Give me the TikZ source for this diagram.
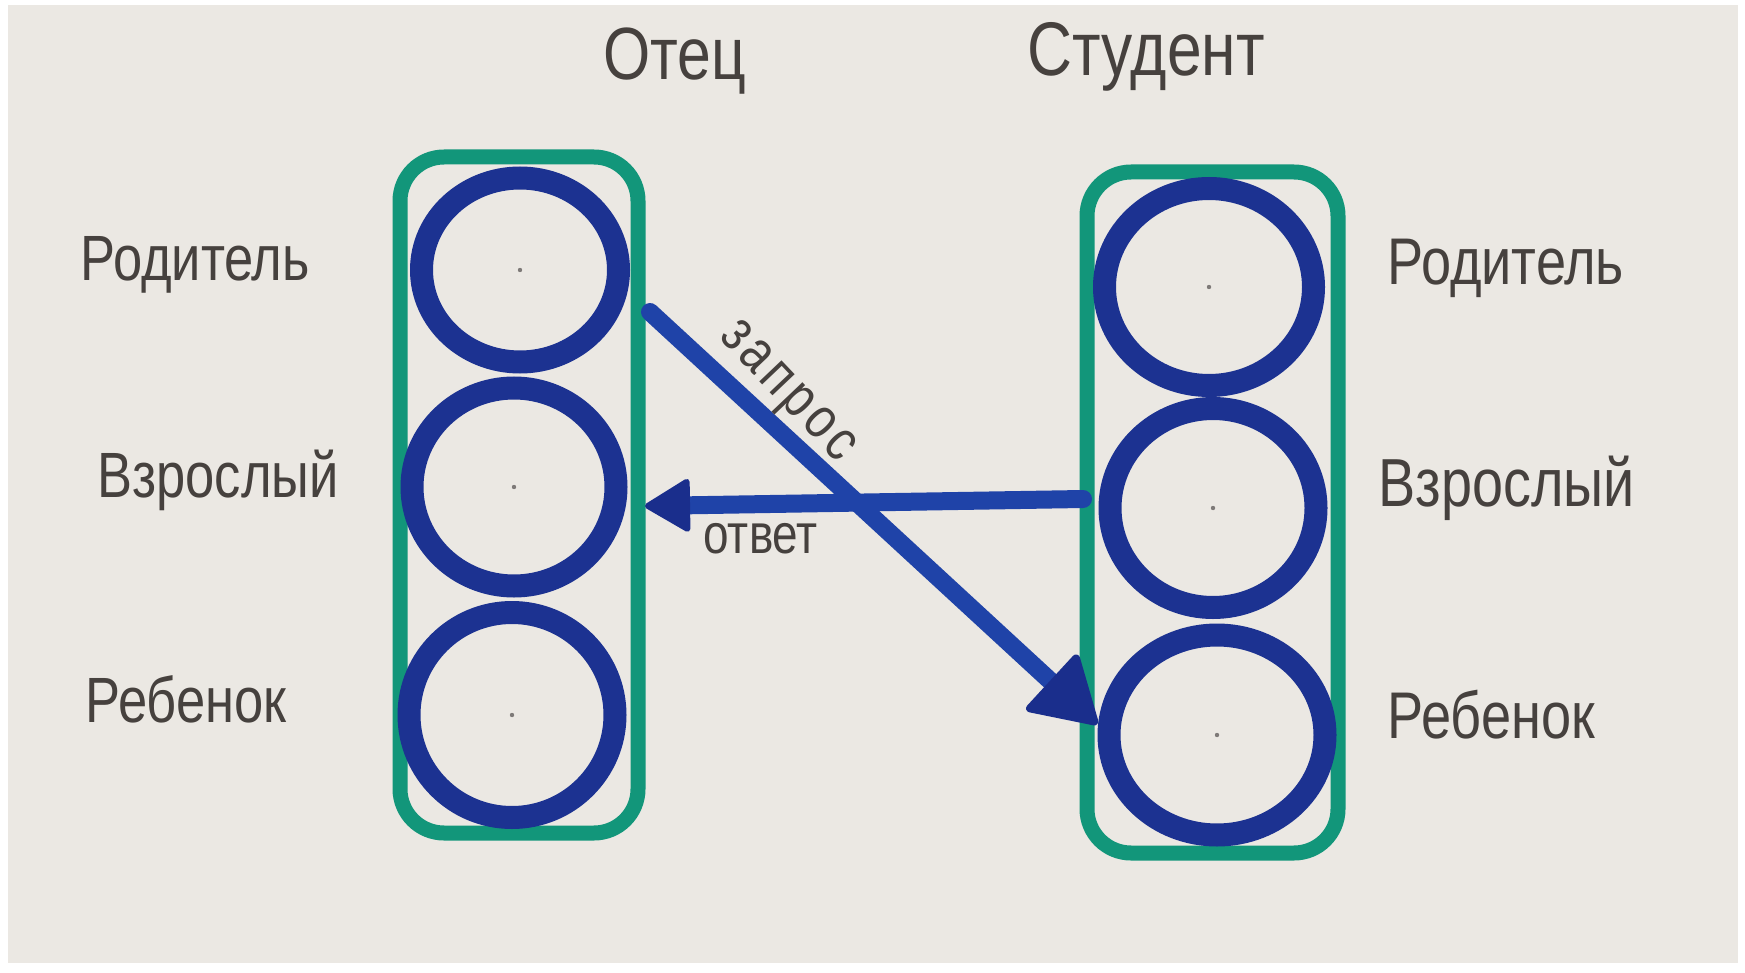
\documentclass[tikz,border=0pt]{standalone}
\usepackage{fontspec}
\setmainfont{Liberation Sans}
\newfontfamily\handfont[FakeStretch=0.82]{Liberation Sans}
\newfontfamily\spacedhand[FakeStretch=0.82,LetterSpace=8]{Liberation Sans}
\usetikzlibrary{arrows.meta,calc,shapes.geometric}
\definecolor{paper}{HTML}{EBE8E3}
\definecolor{ink}{HTML}{1C3291}
\definecolor{arrowink}{HTML}{1F43A8}
\definecolor{headink}{HTML}{1A2E8C}
\definecolor{marker}{HTML}{12967A}
\definecolor{pencil}{HTML}{46413E}
\begin{document}
\begin{tikzpicture}[x=0.5pt,y=-0.5pt,
  ring/.style={ellipse,draw=ink,line width=11.5pt,inner sep=0pt,outer sep=0pt},
  column/.style={rectangle,draw=marker,line width=7.5pt,rounded corners=22pt,inner sep=0pt},
  hand/.style={text=pencil,inner sep=0pt,font=\handfont\fontsize{#1}{#1}\selectfont},
  spaced/.style={text=pencil,inner sep=0pt,font=\spacedhand\fontsize{#1}{#1}\selectfont},
  link/.style={draw=arrowink,line width=9pt,line cap=round},
  centerdot/.style={circle,fill=pencil!70,inner sep=0pt,minimum size=2.2pt}
]
\useasboundingbox (0,0) rectangle (1745,973);
\fill[white] (0,0) rectangle (1745,973);
\fill[paper] (8,5) rectangle (1738,963);

% columns
\node[column,minimum width=119pt,minimum height=338pt] (lcol) at (519,495) {};
\node[column,minimum width=125.5pt,minimum height=340.5pt] (rcol) at (1212.5,512.5) {};

% rings
\node[ring,minimum width=98.5pt,minimum height=92pt] (lp) at (520,270) {};
\node[ring,minimum width=102pt,minimum height=99pt] (la) at (514,487) {};
\node[ring,minimum width=103pt,minimum height=102.5pt] (lch) at (512,715) {};
\node[ring,minimum width=104.5pt,minimum height=98.5pt] (rp) at (1209,287) {};
\node[ring,minimum width=103pt,minimum height=99.5pt] (ra) at (1213,508) {};
\node[ring,minimum width=108pt,minimum height=100pt] (rch) at (1217,735) {};

% center marks
\node[centerdot] (lpd) at (lp.center) {};
\node[centerdot] (lad) at (la.center) {};
\node[centerdot] (lchd) at (lch.center) {};
\node[centerdot] (rpd) at (rp.center) {};
\node[centerdot] (rad) at (ra.center) {};
\node[centerdot] (rchd) at (rch.center) {};

% labels
\node[hand=37,anchor=base west] (father) at (603,80) {Отец};
\node[hand=38,anchor=base west] (student) at (1027,76) {Студент};
\node[hand=32,anchor=base west] (lpl) at (80,280) {Родитель};
\node[hand=32,anchor=base west] (lal) at (97,497) {Взрослый};
\node[hand=32,anchor=base west] (lchl) at (85,722) {Ребенок};
\node[hand=33,anchor=base west] (rpl) at (1387,285) {Родитель};
\node[hand=34,anchor=base west] (ral) at (1378,506) {Взрослый};
\node[hand=33,anchor=base west] (rchl) at (1387,738) {Ребенок};

% arrows
\coordinate (qstart) at (650,312);
\draw[link,shorten >=8pt,-{Triangle[length=34pt,width=40pt,line width=4pt,round,color=headink]}] (qstart) -- (rch.west);
\draw[link,-{Triangle[length=24pt,width=28pt,line width=3pt,round,color=headink]}] ($(ra.west)+(-27,-9)$) -- ($(la.east)+(29,19)$);

\node[hand=28,anchor=base west] (answer) at (703,553) {ответ};
\node[spaced=29,rotate=-46.5] (request) at (785,394) {запрос};
\end{tikzpicture}
\end{document}
